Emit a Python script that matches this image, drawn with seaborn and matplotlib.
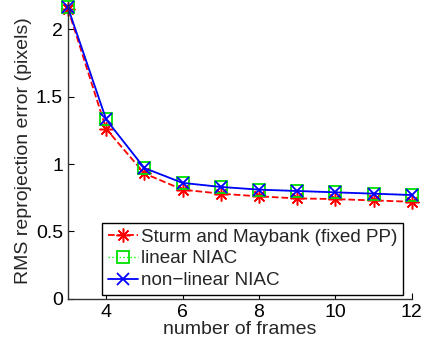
import matplotlib
matplotlib.use("Agg")
import matplotlib.pyplot as plt
import seaborn as sns
import pandas as pd

frames = [3, 4, 5, 6, 7, 8, 9, 10, 11, 12]
sturm = [2.15, 1.26, 0.93, 0.81, 0.78, 0.76, 0.745, 0.74, 0.73, 0.72]
linear_niac = [2.16, 1.33, 0.97, 0.86, 0.83, 0.81, 0.80, 0.79, 0.78, 0.77]
nonlinear_niac = [2.16, 1.33, 0.97, 0.86, 0.83, 0.81, 0.80, 0.79, 0.78, 0.77]
labels = ["Sturm and Maybank (fixed PP)", "linear NIAC", "non\u2212linear NIAC"]

sns.set_style("ticks")
plt.rcParams['font.family'] = ['Liberation Sans', 'DejaVu Sans']
plt.rcParams['xtick.direction'] = 'in'
plt.rcParams['ytick.direction'] = 'in'

fig = plt.figure(figsize=(4.22, 3.48), dpi=100)
ax = fig.add_axes([0.161, 0.141, 0.815, 0.853])

df = pd.DataFrame({"x": frames, "s": sturm, "l": linear_niac, "n": nonlinear_niac})
sns.lineplot(data=df, x="x", y="s", ax=ax, color="red", linestyle="--", marker=(8, 2, 0),
             markersize=10, markeredgewidth=1.1, markeredgecolor="red", linewidth=1.3,
             label=labels[0], clip_on=False)
sns.lineplot(data=df, x="x", y="l", ax=ax, color="#00ff00", linestyle=":", marker="s",
             markersize=8.5, markerfacecolor="none", markeredgecolor="#00e000", markeredgewidth=1.3,
             linewidth=1.0, label=labels[1], clip_on=False)
sns.lineplot(data=df, x="x", y="n", ax=ax, color="blue", linestyle="-", marker="x",
             markersize=8, markeredgewidth=1.3, markeredgecolor="blue", linewidth=1.3,
             label=labels[2], clip_on=False)

ax.set_xlim(3, 12)
ax.set_ylim(0, 2.2)
ax.set_xticks([4, 6, 8, 10, 12])
ax.set_yticks([0, 0.5, 1, 1.5, 2])
ax.set_yticklabels(["0", "0.5", "1", "1.5", "2"])
ax.tick_params(labelsize=14, length=4, width=0.8, colors="black")
ax.set_xlabel("number of frames", fontsize=14, labelpad=0)
ax.set_ylabel("RMS reprojection error (pixels)", fontsize=14, labelpad=3)
for sp in ["top", "right"]:
    ax.spines[sp].set_visible(False)
for sp in ["left", "bottom"]:
    ax.spines[sp].set_color("#333333")
    ax.spines[sp].set_linewidth(1.0)

leg = ax.legend(loc="lower left", bbox_to_anchor=(0.099, 0.013), borderaxespad=0,
                fontsize=13.6, frameon=True, fancybox=False, edgecolor="black",
                handlelength=1.6, handletextpad=0.15, labelspacing=0.25, borderpad=0.3)
leg.get_frame().set_linewidth(1.0)
leg.get_frame().set_alpha(1)

fig.savefig("out.png", dpi=100)
